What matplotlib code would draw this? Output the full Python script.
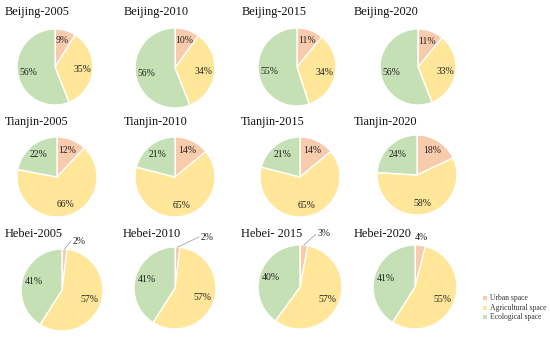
import matplotlib
matplotlib.use("Agg")
import matplotlib.pyplot as plt
import math

titles = ["Beijing-2005", "Beijing-2010", "Beijing-2015", "Beijing-2020",
          "Tianjin-2005", "Tianjin-2010", "Tianjin-2015", "Tianjin-2020",
          "Hebei-2005", "Hebei-2010", "Hebei- 2015", "Hebei-2020"]
urban = [9, 10, 11, 11, 12, 14, 14, 18, 2, 2, 3, 4]
agricultural = [35, 34, 34, 33, 66, 65, 65, 58, 57, 57, 57, 55]
ecological = [56, 56, 55, 56, 22, 21, 21, 24, 41, 41, 40, 41]
legend_labels = ["Urban space", "Agricultural space", "Ecological space"]
colors = ["#F8CBAD", "#FFE699", "#C5E0B4"]

W, H = 550, 337
fig = plt.figure(figsize=(W / 100, H / 100), dpi=100)
ax = fig.add_axes([0, 0, 1, 1])

font = "Liberation Serif"
# layout (pixels, y from top)
centers = [(55, 67), (175, 68), (297, 67), (418, 67),
           (57, 177), (175, 177), (300, 177), (417, 175),
           (62, 290), (175, 288), (300, 287), (415, 287)]
radii = [38, 40, 39, 38, 40, 40, 40, 40, 41, 41, 42, 42]
title_pos = [(5, 12), (124, 12), (242, 12), (354, 12),
             (5, 122), (124, 122), (241, 122), (354, 122),
             (5, 234), (123, 234), (241, 234), (354, 234)]
# outside label positions for small slices (pixels)
small_label = {8: (79, 241), 9: (207, 237), 10: (324, 234), 11: (421, 238)}
leader = {8: True, 9: True, 10: True, 11: False}

for i, t in enumerate(titles):
    cx, cy = centers[i]
    r = radii[i]
    vals = [urban[i], agricultural[i], ecological[i]]
    wedges, _ = ax.pie(vals, colors=colors, startangle=90, counterclock=False,
                       center=(cx, H - cy), radius=r, frame=True,
                       wedgeprops=dict(edgecolor="white", linewidth=1.0))
    ax.text(title_pos[i][0], H - title_pos[i][1], t, fontsize=8.8,
            family=font, ha="left", va="center", color="#111111")
    for j, (w, v) in enumerate(zip(wedges, vals)):
        ang = math.radians((w.theta1 + w.theta2) / 2)
        if j == 0 and i in small_label:
            lx, ly = small_label[i]
            ax.text(lx, H - ly, f"{v}%", fontsize=7, family=font,
                    ha="center", va="center", color="#222222")
            if leader[i]:
                ex = cx + r * 1.0 * math.cos(ang)
                ey = (H - cy) + r * 1.0 * math.sin(ang)
                ax.plot([ex, lx - 8], [ey, H - ly], color="#A6A6A6", lw=0.6)
            continue
        d = 0.72 * r
        ax.text(cx + d * math.cos(ang), (H - cy) + d * math.sin(ang), f"{v}%",
                fontsize=7, family=font, ha="center", va="center",
                color="#222222")

# legend
for k, (lab, c) in enumerate(zip(legend_labels, colors)):
    y = H - (298 + 9.5 * k)
    ax.scatter([485], [y], marker="s", s=5, color=c, linewidths=0)
    ax.text(490, y, lab, fontsize=5.5, family=font, ha="left", va="center",
            color="#333333")

ax.set_xlim(0, W)
ax.set_ylim(0, H)
ax.set_aspect("equal")
ax.axis("off")

fig.savefig("out.png", dpi=100)
